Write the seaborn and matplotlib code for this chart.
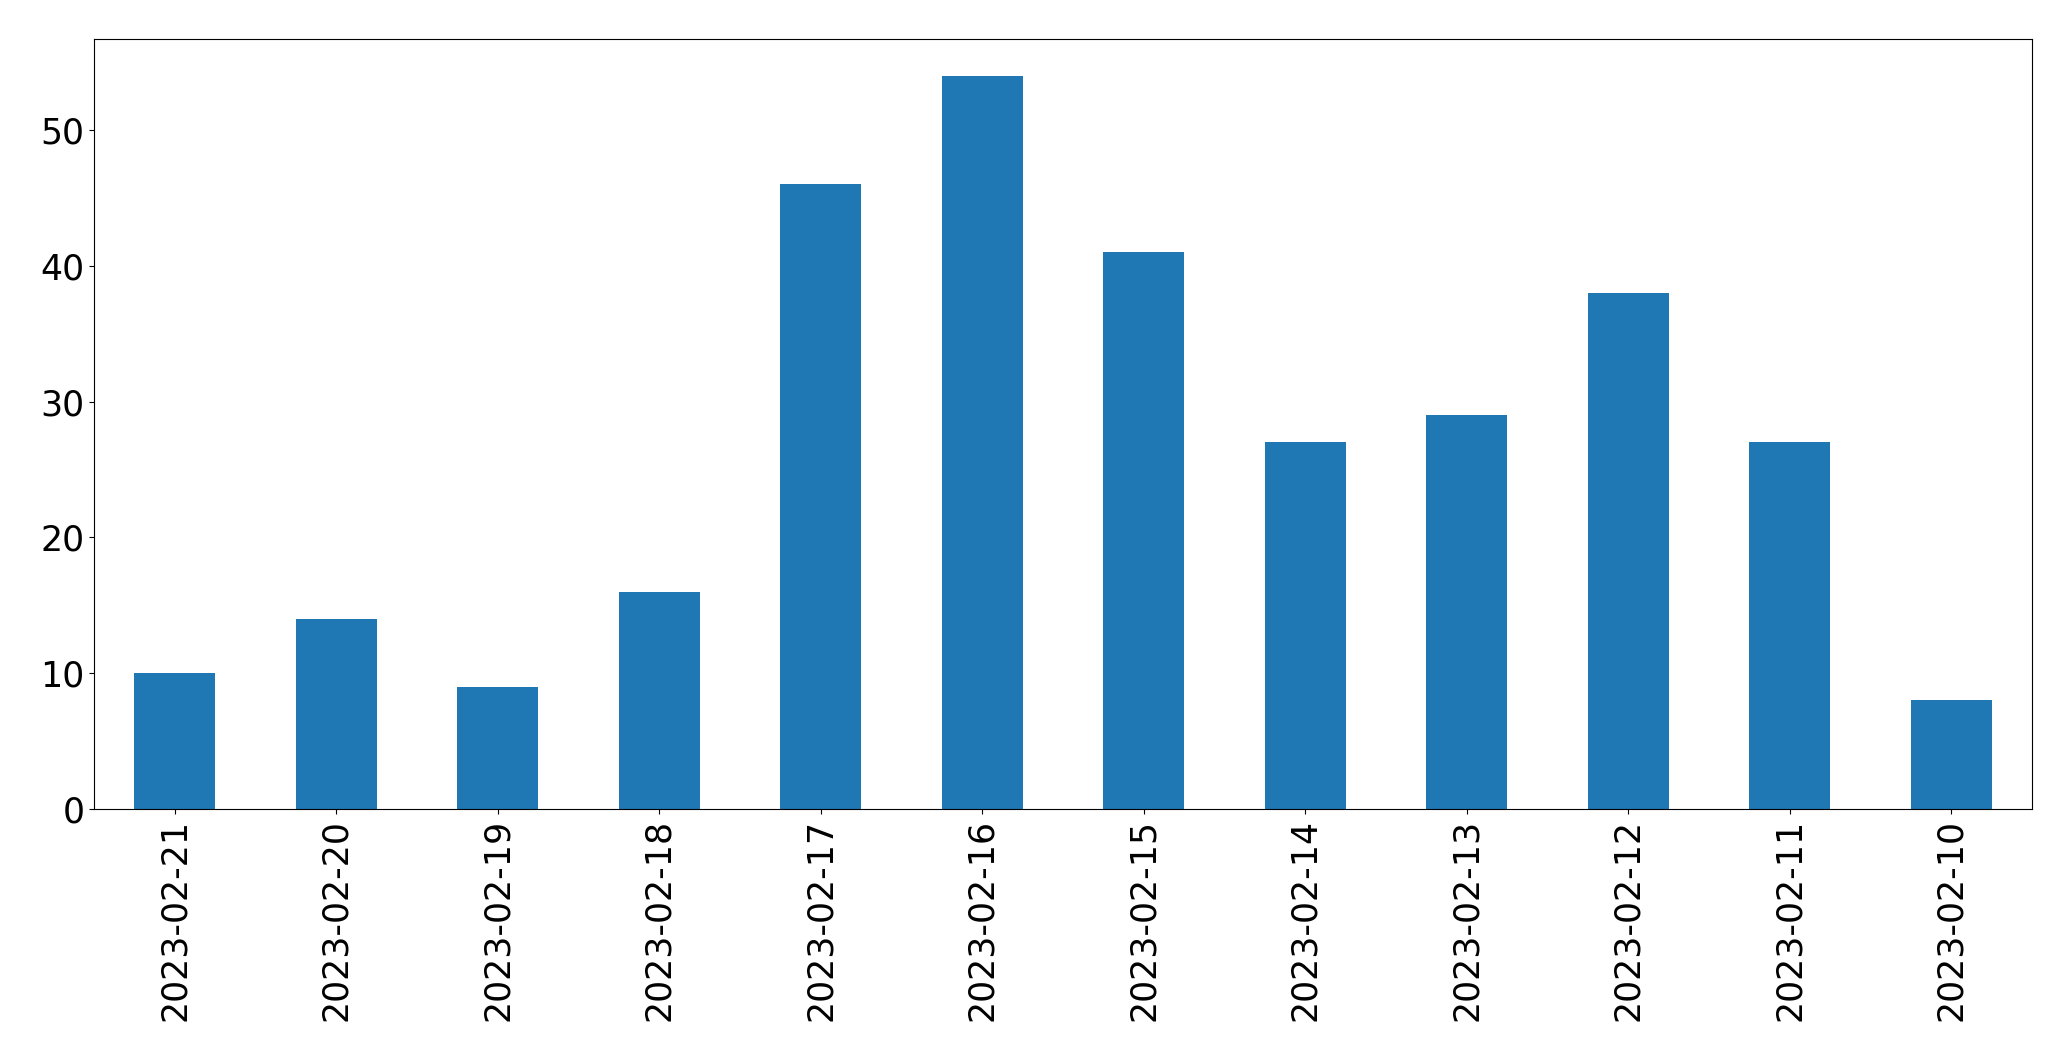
import pandas as pd
import matplotlib
matplotlib.use("Agg")
import matplotlib.pyplot as plt
import seaborn as sns

# Data
dates = ["2023-02-21", "2023-02-20", "2023-02-19", "2023-02-18", "2023-02-17",
         "2023-02-16", "2023-02-15", "2023-02-14", "2023-02-13", "2023-02-12",
         "2023-02-11", "2023-02-10"]
counts = [10, 14, 9, 16, 46, 54, 41, 27, 29, 38, 27, 8]

df = pd.DataFrame({"date": dates, "count": counts})

fig = plt.figure(figsize=(20.71, 10.61), dpi=100)
ax = fig.add_axes([0.0454, 0.2375, 0.9358, 0.7257])

sns.barplot(data=df, x="date", y="count", order=dates, color="#1f77b4",
            saturation=1, width=0.5, ax=ax)

ax.set_xlim(-0.5, len(dates) - 0.5)
ax.set_ylim(0, max(counts) * 1.05)
ax.set_xlabel("")
ax.set_ylabel("")
ax.tick_params(axis="x", labelrotation=90, labelsize=25)
ax.tick_params(axis="y", labelsize=25)
for s in ax.spines.values():
    s.set_visible(True)
    s.set_color("black")

fig.savefig("out.png", dpi=100)
plt.close(fig)
